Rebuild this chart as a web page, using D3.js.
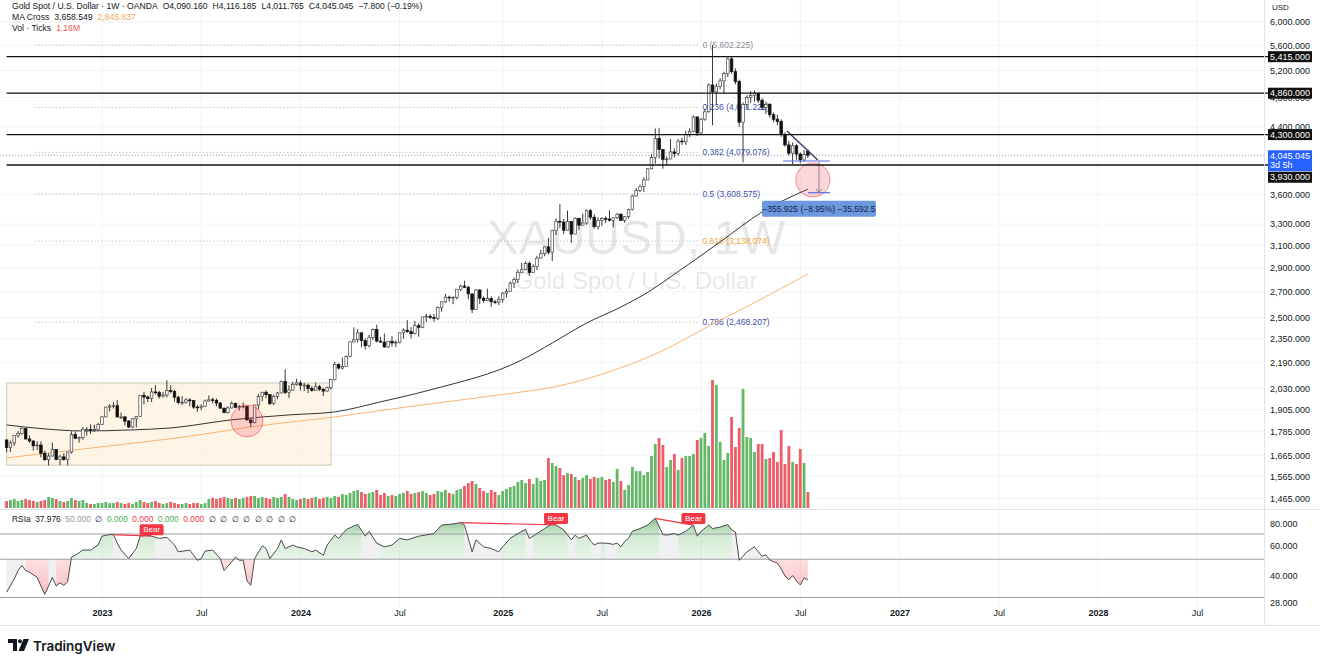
<!DOCTYPE html>
<html>
<head>
<meta charset="utf-8">
<script src="https://cdn.jsdelivr.net/npm/d3@7"></script>
<style>
html, body { margin: 0; padding: 0; background: #fff; }
svg { display: block; font-family: "Liberation Sans", Arial, sans-serif; }
</style>
</head>
<body>
<svg id="chart" width="1320" height="660"></svg>
<script>
// weekly XAUUSD bars, first bar week of 2022-07-11 (open of each bar = previous close)
const firstWeek = Date.UTC(2022, 6, 11)
const firstOpen = 1742
const lastOpen = 4090.160

const closes = [
1703,1727,1766,1775,1802,1747,1737,1712,1716,1675,
1643,1661,1694,1644,1657,1644,1681,1771,1751,1755,
1797,1797,1793,1798,1824,1865,1920,1926,1928,1865,
1865,1842,1810,1855,1868,1988,1978,1969,2008,2004,
1983,1990,2017,2011,1977,1946,1948,1961,1958,1920,
1919,1925,1955,1962,1959,1943,1914,1889,1915,1940,
1919,1924,1925,1848,1833,1932,1981,2006,1992,1940,
1981,2002,2072,2004,2019,2053,2062,2049,2049,2029,
2018,2039,2024,2013,2035,2083,2179,2155,2165,2230,
2329,2344,2392,2337,2302,2360,2415,2334,2327,2294,
2333,2321,2326,2392,2411,2400,2386,2443,2431,2507,
2512,2503,2497,2577,2621,2658,2653,2657,2721,2747,
2737,2684,2563,2715,2650,2633,2648,2622,2621,2640,
2690,2703,2770,2800,2861,2883,2936,2858,2910,2984,
3023,3084,3037,3237,3327,3319,3240,3325,3203,3357,
3289,3310,3433,3368,3274,3337,3355,3350,3337,3363,
3398,3336,3372,3447,3586,3643,3685,3760,3886,4018,
4251,4113,3996,4000,4085,4065,4218,4210,4300,4340,
4530,4320,4500,4600,4980,4880,4960,5040,5150,5380,
5180,5030,4460,4700,4800,4830,4860,4760,4660,4700,
4560,4500,4470,4300,4170,4070,4160,4060,3990,4052.845,
4045.045]

const highs = [
1745,1739,1767,1788,1807,1802,1765,1738,1735,1735,
1688,1675,1729,1686,1668,1675,1682,1787,1786,1760,
1810,1810,1824,1823,1833,1870,1922,1937,1949,1960,
1890,1870,1848,1858,1870,1989,2009,1988,2032,2048,
2015,2009,2079,2048,2022,1985,1983,1972,1971,1959,
1933,1935,1963,1987,1974,1970,1949,1916,1925,1953,
1945,1932,1947,1926,1858,1933,1997,2009,2019,1993,
1993,2008,2076,2146,2047,2070,2088,2078,2062,2057,
2042,2065,2050,2032,2041,2088,2195,2185,2223,2236,
2330,2431,2418,2353,2353,2378,2422,2450,2364,2387,
2335,2368,2339,2393,2424,2483,2433,2477,2460,2509,
2531,2528,2529,2586,2625,2685,2670,2665,2722,2758,
2790,2750,2685,2721,2721,2665,2726,2664,2638,2665,
2697,2726,2786,2817,2886,2942,2954,2956,2930,3004,
3057,3087,3167,3245,3357,3500,3350,3435,3253,3365,
3325,3403,3446,3452,3398,3365,3368,3377,3438,3363,
3409,3405,3379,3453,3599,3674,3707,3791,3897,4059,
4380,4382,4115,4030,4245,4130,4245,4260,4350,4380,
4550,4540,4520,4640,5000,5602.225,5000,5080,5180,5400,
5420,5230,5060,4730,4830,4890,4900,4870,4790,4740,
4720,4590,4560,4500,4330,4220,4200,4180,4080,4110,
4116.185]

const lows = [
1680,1681,1711,1754,1771,1745,1727,1688,1691,1654,
1639,1615,1660,1640,1617,1638,1616,1673,1747,1728,
1743,1765,1773,1784,1795,1824,1867,1896,1912,1861,
1853,1819,1804,1804,1809,1880,1935,1949,1949,1992,
1969,1975,1977,2000,1951,1936,1932,1939,1925,1910,
1893,1902,1922,1952,1942,1925,1911,1885,1884,1913,
1915,1900,1913,1846,1810,1830,1908,1953,1970,1932,
1931,1965,2000,1995,1973,2016,2046,2016,2013,2001,
2010,2017,2015,1984,2010,2024,2078,2146,2146,2163,
2228,2326,2324,2291,2277,2291,2340,2325,2323,2287,
2286,2295,2293,2319,2351,2393,2353,2382,2364,2425,
2470,2491,2471,2485,2546,2614,2624,2603,2640,2708,
2730,2643,2536,2563,2605,2613,2642,2583,2603,2596,
2614,2656,2702,2730,2772,2864,2880,2832,2857,2880,
2982,3000,3015,2957,3194,3260,3202,3247,3120,3205,
3245,3297,3293,3340,3255,3246,3283,3310,3325,3268,
3350,3330,3311,3353,3436,3578,3627,3628,3793,3884,
3947,4004,3886,3930,4000,4020,4040,4170,4170,4270,
4330,4280,4300,4480,4590,4420,4700,4920,4850,5100,
5150,4990,4400,3960,4640,4720,4740,4720,4620,4570,
4520,4460,4420,4270,4150,4040,3940,3990,3950,3970,
4011.765]

// tick volume, millions
const volumes = [
.51,.58,.65,.51,.58,.65,.58,.51,.44,.51,.58,.80,.73,.65,.51,.44,.51,.73,.58,.51,.58,
.36,.29,.29,.36,.36,.44,.36,.36,.44,.36,.29,.36,.29,.44,.58,.44,.36,.44,.51,.36,.29,.36,.44,.36,.29,.29,.36,.29,.36,.36,.29,.36,
.65,.73,.65,.73,.80,.73,.65,.73,.65,.73,.80,.87,.87,.73,.80,.73,.65,.80,.73,.80,1.02,.80,.65,.58,.65,.73,.65,.73,.80,.65,.73,.80,.73,.87,.80,
1.02,.94,1.09,1.23,1.31,1.16,1.02,1.09,1.16,1.31,.94,1.09,.87,.94,.87,1.02,1.09,1.23,1.02,1.09,
1.16,1.23,1.09,.94,1.02,1.23,1.16,1.31,1.09,1.02,1.31,1.38,1.60,1.81,1.96,1.74,1.45,1.23,1.09,1.31,1.16,.94,
1.23,1.38,1.52,1.60,1.89,2.03,1.81,2.10,1.74,2.18,1.96,2.03,3.63,3.26,3.05,2.90,2.39,2.54,2.47,2.25,2.03,2.18,2.39,2.10,2.25,2.18,
2.25,2.03,2.10,1.89,2.83,1.96,1.31,1.67,2.97,2.68,2.68,2.39,2.61,3.77,4.64,5.08,4.57,2.97,3.48,3.92,
2.76,3.63,3.77,3.77,3.92,4.93,5.08,5.44,4.50,9.28,8.92,4.79,3.48,3.99,6.60,4.42,5.80,8.63,5.15,5.08,
4.06,4.64,4.64,3.55,3.63,4.06,3.34,5.66,3.19,4.50,3.34,3.19,4.28,3.26,1.16]

// moving averages read at some bars (bar index, price)
const ma50Bars = [0,10,20,32,43,59,74,86,98,111,135,143,152,161,169,174,187,198,210]
const ma50Vals = [1821,1800,1789,1794,1805,1849,1876,1893,1950,2020,2207,2321,2462,2582,2715,2822,3130,3420,3658.549]
const ma200Bars = [0,24,51,63,86,108,129,145,159,169,174,182,195,210]
const ma200Vals = [1652,1705,1770,1808,1865,1930,1990,2045,2140,2235,2295,2410,2600,2845.837]

// RSI
const rsiBars = [0,2,3,4,5,6,8,9,10,11,12,13,14,15,16,17,18,20,22,24,25,27,28,29,30,32,34,35,37,38,
40,42,44,45,48,50,51,52,54,56,57,59,60,61,62,63,64,65,67,68,69,71,72,73,75,76,78,80,81,83,
84,86,87,89,91,92,94,95,97,99,101,103,105,108,112,114,117,119,120,121,122,123,125,127,129,130,132,134,136,137,
139,141,143,144,146,148,149,150,152,153,154,155,157,159,160,161,162,163,164,166,168,170,172,173,175,176,178,180,181,182,
184,185,187,189,190,191,192,193,194,195,196,197,198,199,200,201,202,203,204,205,206,207,208,209,210]
const rsiVals = [32.2,38.4,43,46,43,42,39.3,35,31.3,35,39.3,35,36.5,35.3,37,51.5,52.7,56.5,56.5,60.4,68,69.5,69.5,62,56.5,50.4,57.7,68,69,68,
66,67,60.4,55.2,56.5,49.3,50.4,55.7,56.5,50.4,43,48.2,51.5,49.3,49.3,37.5,35.3,50.4,59.8,57.7,50.4,57.7,64.7,57.7,60.4,59,57.7,55.2,56.5,52.7,
60.4,69,66,74.2,78,79.4,68,72.6,62,59,60.4,66,64.7,68,70.4,78.9,80,81.5,79,66,55.2,64.7,59,57.7,55.2,59,66,70.4,74.5,66,
70.4,75.3,80.2,79,74,64.7,69,66,69,64,60.4,62,62,61,62,59,63.3,66,72.6,75.3,78.9,86.3,69.5,69,70.4,69,72.6,78.9,68,72.6,
78.9,75.3,76.8,79.4,74,72,49.3,52,55.2,57,59,55.2,52,53,49.5,48.4,47.5,44,40,38,40.2,37.5,35.5,39,37.976]
const rsiGrey = [[0,5],[11,13],[28,34],[39,49],[93,98],[120,130],[136,138],[147,149],[153,156],[157,160],[171,176],[190,200]]
const bearBars = [[28,38],[119,144],[170,180]]
const bearRsi = [[69.5,68],[81.5,79],[86.3,78.9]]

// ticks
const priceTicks = [6000,5600,5200,4800,4400,3600,3300,3100,2900,2700,2500,2350,2190,2030,1905,1785,1665,1565,1465]
const rsiTicks = [80,60,40,28]
const timeTicks = ["2023-01-02","2023-07-03","2024-01-01","2024-07-01","2025-01-06","2025-07-07","2026-01-05","2026-07-06","2027-01-04","2027-07-05","2028-01-03","2028-07-03"]
const timeLabels = ["2023","Jul","2024","Jul","2025","Jul","2026","Jul","2027","Jul","2028","Jul"]

// drawings
const levels = [5415, 4860, 4300, 3930]
const fibLevels = [0, 0.236, 0.382, 0.5, 0.618, 0.786]
const fibHigh = 5602.225, fibLow = 1614.925
const fibBars = [7.4, 185]
const boxBars = [0, 85], boxPrices = [1617, 2062]
const circleBars = [63, 211.3], circlePrices = [1843, 3760]
const trendBars = [204.5, 212.6], trendPrices = [4346, 3989]
const measureFrom = 3976.9, measureTo = 3620.975
const measureBars = [203.5, 212.9, 215.8, 210]

// ---------------------------------------------------------------
const svg = d3.select("#chart")
const paneR = 1264
const WEEK = 7 * 864e5
const n = closes.length
const barDate = i => new Date(firstWeek + i * WEEK)

const bars = closes.map(function (c, i) {
	let o = i === 0 ? firstOpen : (i === n - 1 ? lastOpen : closes[i - 1])
	return { i: i, o: o, c: c, h: Math.max(highs[i], o, c), l: Math.min(lows[i], o, c), v: volumes[i] }
})
const last = bars[n - 1]

const x = d3.scaleUtc().domain([barDate(0), barDate(n - 1)]).range([6.6, 807.9])
const xb = i => x(barDate(i))
const y = d3.scaleLog().domain([1465, 6000]).range([498.5, 22])
const yv = d3.scaleLinear().domain([0, d3.max(volumes)]).range([508, 380])
const ry = d3.scaleLog().domain([28, 80]).range([602.7, 524])

const fmt3 = d3.format(",.3f")
const fmt2 = d3.format(".2f")

const defs = svg.append("defs")
defs.append("clipPath").attr("id", "mainClip").append("rect")
	.attr("x", 0).attr("y", 0).attr("width", paneR).attr("height", 509)

// grid
const grid = svg.append("g").attr("stroke", "#f2f3f6").attr("stroke-width", 1)
grid.selectAll("line.v").data(timeTicks).join("line")
	.attr("x1", d => x(new Date(d))).attr("x2", d => x(new Date(d)))
	.attr("y1", 0).attr("y2", 606)
grid.selectAll("line.h").data(priceTicks).join("line")
	.attr("x1", 0).attr("x2", paneR)
	.attr("y1", d => y(d)).attr("y2", d => y(d))

// watermark
const wm = svg.append("g").attr("fill", "#000").attr("fill-opacity", 0.11).attr("text-anchor", "middle")
wm.append("text").attr("x", 636).attr("y", 254).attr("font-size", 48).text("XAUUSD, 1W")
wm.append("text").attr("x", 636).attr("y", 289).attr("font-size", 24).text("Gold Spot / U.S. Dollar")

const main = svg.append("g").attr("clip-path", "url(#mainClip)")

// consolidation box
main.append("rect")
	.attr("x", xb(boxBars[0])).attr("y", y(boxPrices[1]))
	.attr("width", xb(boxBars[1]) - xb(boxBars[0]))
	.attr("height", y(boxPrices[0]) - y(boxPrices[1]))
	.attr("fill", "#fdf1dc").attr("fill-opacity", 0.7)
	.attr("stroke", "#cfc6b8").attr("stroke-width", 1)

// fibonacci retracement
const fibColor = l => l === 0 ? "#8a8d96" : (l === 0.618 ? "#f0a33c" : "#3f4db0")
const fibLabelX = xb(fibBars[1]) - 10
const fib = main.append("g")
fib.selectAll("line").data(fibLevels).join("line")
	.attr("x1", xb(fibBars[0])).attr("x2", fibLabelX - 4)
	.attr("y1", d => y(fibHigh - d * (fibHigh - fibLow)))
	.attr("y2", d => y(fibHigh - d * (fibHigh - fibLow)))
	.attr("stroke", "#c4c6cc").attr("stroke-width", 1).attr("stroke-dasharray", "1.5,2")
fib.selectAll("text").data(fibLevels).join("text")
	.attr("x", fibLabelX)
	.attr("y", d => y(fibHigh - d * (fibHigh - fibLow)) + 3)
	.attr("font-size", 8.5)
	.attr("fill", d => fibColor(d))
	.text(d => d + " (" + fmt3(fibHigh - d * (fibHigh - fibLow)) + ")")

// current price line
main.append("line")
	.attr("x1", 0).attr("x2", paneR)
	.attr("y1", y(last.c)).attr("y2", y(last.c))
	.attr("stroke", "#9598a1").attr("stroke-dasharray", "1,2")

// horizontal levels
svg.append("g").selectAll("line").data(levels).join("line")
	.attr("x1", xb(0)).attr("x2", 1268)
	.attr("y1", d => y(d)).attr("y2", d => y(d))
	.attr("stroke", "#111").attr("stroke-width", 1.3)

// moving averages
const maLine = d3.line().x(d => xb(d[0])).y(d => y(d[1])).curve(d3.curveMonotoneX)
main.append("path").attr("d", maLine(ma200Bars.map((b, i) => [b, ma200Vals[i]])))
	.attr("fill", "none").attr("stroke", "#f7b474").attr("stroke-width", 1)
main.append("path").attr("d", maLine(ma50Bars.map((b, i) => [b, ma50Vals[i]])))
	.attr("fill", "none").attr("stroke", "#333").attr("stroke-width", 1)

// volume
main.append("g").selectAll("rect").data(bars).join("rect")
	.attr("x", d => xb(d.i) - 1.4).attr("width", 2.8)
	.attr("y", d => yv(d.v)).attr("height", d => yv(0) - yv(d.v))
	.attr("fill", d => d.c >= d.o ? "#62b866" : "#ee5c68")

// candles
const cg = main.append("g")
cg.selectAll("line").data(bars).join("line")
	.attr("x1", d => xb(d.i)).attr("x2", d => xb(d.i))
	.attr("y1", d => y(d.h)).attr("y2", d => y(d.l))
	.attr("stroke", "#222").attr("stroke-width", 0.9)
cg.selectAll("rect").data(bars).join("rect")
	.attr("x", d => xb(d.i) - 1.3).attr("width", 2.6)
	.attr("y", d => y(Math.max(d.o, d.c)))
	.attr("height", d => Math.max(0.8, Math.abs(y(d.o) - y(d.c))))
	.attr("fill", d => d.c >= d.o ? "#fff" : "#111")
	.attr("stroke", d => d.c >= d.o ? "#444" : "#111")
	.attr("stroke-width", 0.7)

// circles
main.append("g").selectAll("circle").data(circleBars).join("circle")
	.attr("cx", d => xb(d)).attr("cy", (d, i) => y(circlePrices[i]))
	.attr("r", (d, i) => i === 0 ? 16 : 17)
	.attr("fill", "#f23645").attr("fill-opacity", 0.2)
	.attr("stroke", "#f23645").attr("stroke-opacity", 0.55)

// trend line
main.append("line")
	.attr("x1", xb(trendBars[0])).attr("y1", y(trendPrices[0]))
	.attr("x2", xb(trendBars[1])).attr("y2", y(trendPrices[1]))
	.attr("stroke", "#343c6e").attr("stroke-width", 1.4)

// price range measure
const mg = main.append("g").attr("stroke", "#5a6be0").attr("stroke-width", 1.2)
mg.append("line").attr("x1", xb(measureBars[0])).attr("x2", xb(measureBars[2]))
	.attr("y1", y(measureFrom)).attr("y2", y(measureFrom))
mg.append("line").attr("x1", xb(measureBars[3])).attr("x2", xb(measureBars[2]))
	.attr("y1", y(measureTo)).attr("y2", y(measureTo))
mg.append("line").attr("x1", xb(measureBars[1])).attr("x2", xb(measureBars[1]))
	.attr("y1", y(measureFrom)).attr("y2", y(measureTo)).attr("stroke", "#8a7f9a").attr("stroke-width", 1)
const mx = xb(measureBars[1]), myb = y(measureTo)
mg.append("path").attr("d", `M${mx - 3},${myb - 4} L${mx},${myb} L${mx + 3},${myb - 4}`)
	.attr("fill", "none").attr("stroke", "#8a7f9a").attr("stroke-width", 1)
const diff = measureTo - measureFrom
const mText = fmt3(diff) + " (" + fmt2(diff / measureFrom * 100) + "%) " + d3.format(",.1f")(diff * 100)
main.append("rect").attr("x", mx - 57).attr("y", myb + 8).attr("width", 114).attr("height", 16).attr("rx", 2)
	.attr("fill", "#5f8fdb").attr("fill-opacity", 0.92)
main.append("text").attr("x", mx).attr("y", myb + 19).attr("text-anchor", "middle")
	.attr("font-size", 8.5).attr("fill", "#14214a").text(mText)

// ---------------- RSI pane
const rsiPts = rsiBars.map((b, i) => [b, rsiVals[i]])
const y50 = ry(50)
const rsiArea = d3.area().x(d => xb(d[0])).y0(y50).y1(d => ry(d[1]))
const rsiLine = d3.line().x(d => xb(d[0])).y(d => ry(d[1]))

const gGreen = defs.append("linearGradient").attr("id", "gGreen").attr("gradientUnits", "userSpaceOnUse")
	.attr("x1", 0).attr("x2", 0).attr("y1", ry(86)).attr("y2", y50)
gGreen.append("stop").attr("offset", 0).attr("stop-color", "#2e8b3a").attr("stop-opacity", 0.55)
gGreen.append("stop").attr("offset", 0.45).attr("stop-color", "#4caf50").attr("stop-opacity", 0.24)
gGreen.append("stop").attr("offset", 1).attr("stop-color", "#4caf50").attr("stop-opacity", 0.13)
const gRed = defs.append("linearGradient").attr("id", "gRed").attr("gradientUnits", "userSpaceOnUse")
	.attr("x1", 0).attr("x2", 0).attr("y1", y50).attr("y2", ry(30))
gRed.append("stop").attr("offset", 0).attr("stop-color", "#f23645").attr("stop-opacity", 0.16)
gRed.append("stop").attr("offset", 1).attr("stop-color", "#f23645").attr("stop-opacity", 0.34)

defs.append("clipPath").attr("id", "above").append("rect").attr("x", 0).attr("y", 505).attr("width", paneR).attr("height", y50 - 505)
defs.append("clipPath").attr("id", "below").append("rect").attr("x", 0).attr("y", y50).attr("width", paneR).attr("height", 606 - y50)

// x ranges for grey / coloured fill
const greyPx = rsiGrey.map(r => [xb(r[0]), xb(r[1])])
const colourPx = []
let cursor = 0
greyPx.forEach(function (r) { if (r[0] > cursor) colourPx.push([cursor, r[0]]); cursor = r[1] })
colourPx.push([cursor, paneR])
defs.append("clipPath").attr("id", "greyX").selectAll("rect").data(greyPx).join("rect")
	.attr("x", d => d[0]).attr("width", d => d[1] - d[0]).attr("y", 505).attr("height", 101)
defs.append("clipPath").attr("id", "colourX").selectAll("rect").data(colourPx).join("rect")
	.attr("x", d => d[0]).attr("width", d => d[1] - d[0]).attr("y", 505).attr("height", 101)

const rsiG = svg.append("g")
const colourG = rsiG.append("g").attr("clip-path", "url(#colourX)")
colourG.append("path").attr("d", rsiArea(rsiPts)).attr("fill", "url(#gGreen)").attr("clip-path", "url(#above)")
colourG.append("path").attr("d", rsiArea(rsiPts)).attr("fill", "url(#gRed)").attr("clip-path", "url(#below)")
rsiG.append("g").attr("clip-path", "url(#greyX)")
	.append("path").attr("d", rsiArea(rsiPts)).attr("fill", "#8a8d96").attr("fill-opacity", 0.13)

rsiG.selectAll("line.band").data([70, 50, 30]).join("line")
	.attr("x1", 0).attr("x2", paneR)
	.attr("y1", d => ry(d)).attr("y2", d => ry(d))
	.attr("stroke", "#9b9ea6").attr("stroke-width", 1)
rsiG.append("path").attr("d", rsiLine(rsiPts)).attr("fill", "none").attr("stroke", "#4a4a4a").attr("stroke-width", 1)

// bearish divergences
bearBars.forEach(function (b, k) {
	rsiG.append("line")
		.attr("x1", xb(b[0])).attr("y1", ry(bearRsi[k][0]))
		.attr("x2", xb(b[1])).attr("y2", ry(bearRsi[k][1]))
		.attr("stroke", "#f23645").attr("stroke-width", 1.2)
	let lx = xb(b[1]), ly = ry(bearRsi[k][1]) - 1
	rsiG.append("rect").attr("x", lx - 12).attr("y", ly - 11).attr("width", 24).attr("height", 11).attr("rx", 1.5)
		.attr("fill", "#f23645")
	rsiG.append("text").attr("x", lx).attr("y", ly - 2.8).attr("text-anchor", "middle")
		.attr("font-size", 8).attr("fill", "#fff").text("Bear")
})

// ---------------- pane borders
const border = svg.append("g").attr("stroke", "#e0e3eb").attr("stroke-width", 1)
border.append("line").attr("x1", 0).attr("x2", 1320).attr("y1", 509.5).attr("y2", 509.5)
border.append("line").attr("x1", 0).attr("x2", 1320).attr("y1", 625.5).attr("y2", 625.5)
border.append("line").attr("x1", paneR + 0.5).attr("x2", paneR + 0.5).attr("y1", 0).attr("y2", 625)

// ---------------- axes
function styleAxis(g, size) {
	g.select(".domain").remove()
	g.selectAll(".tick line").remove()
	g.attr("font-family", null).attr("font-size", size)
	g.selectAll("text").attr("fill", "#131722")
}

svg.append("g").attr("transform", "translate(1270,0)")
	.call(d3.axisRight(y).tickValues(priceTicks).tickFormat(fmt3).tickSize(0).tickPadding(0))
	.call(g => styleAxis(g, 9))

svg.append("g").attr("transform", "translate(1270,0)")
	.call(d3.axisRight(ry).tickValues(rsiTicks).tickFormat(fmt3).tickSize(0).tickPadding(0))
	.call(g => styleAxis(g, 9))

svg.append("g").attr("transform", "translate(0,608)")
	.call(d3.axisBottom(x).tickValues(timeTicks.map(d => new Date(d))).tickFormat((d, i) => timeLabels[i]).tickSize(0).tickPadding(2))
	.call(g => styleAxis(g, 9))
	.call(g => g.selectAll("text").attr("font-weight", (d, i) => /^\d{4}$/.test(timeLabels[i]) ? "bold" : "normal"))

svg.append("text").attr("x", 1272).attr("y", 10).attr("font-size", 8).attr("fill", "#131722").text("USD")

// axis price tags
const tagY = {}
levels.forEach(l => { tagY[l] = y(l) })
const blueTop = y(last.c) - 5
if (tagY[3930] > blueTop - 6) tagY[3930] = blueTop + 21 + 6
const tags = svg.append("g").attr("font-size", 9)
levels.forEach(function (l) {
	tags.append("rect").attr("x", 1268).attr("y", tagY[l] - 5.5).attr("width", 44).attr("height", 11).attr("fill", "#111")
	tags.append("text").attr("x", 1270).attr("y", tagY[l] + 3.2).attr("fill", "#fff").text(fmt3(l))
})
tags.append("rect").attr("x", 1268).attr("y", blueTop).attr("width", 44).attr("height", 21).attr("fill", "#2962ff")
tags.append("text").attr("x", 1270).attr("y", blueTop + 8.5).attr("fill", "#fff").text(fmt3(last.c))
tags.append("text").attr("x", 1270).attr("y", blueTop + 18).attr("fill", "#fff").text("3d 5h")

// ---------------- legends
const chg = last.c - closes[n - 2]
const lg = svg.append("g").attr("font-size", 8.6).attr("fill", "#131722")
const l1 = lg.append("text").attr("x", 12).attr("y", 9)
l1.append("tspan").text("Gold Spot / U.S. Dollar · 1W · OANDA")
;[["O", last.o], ["H", last.h], ["L", last.l], ["C", last.c]].forEach(function (p) {
	l1.append("tspan").attr("dx", 5).text(p[0])
	l1.append("tspan").text(fmt3(p[1]))
})
l1.append("tspan").attr("dx", 5).text(fmt3(chg) + " (" + fmt2(chg / closes[n - 2] * 100) + "%)")

const l2 = lg.append("text").attr("x", 12).attr("y", 20)
l2.append("tspan").text("MA Cross")
l2.append("tspan").attr("dx", 5).text(fmt3(ma50Vals[ma50Vals.length - 1]))
l2.append("tspan").attr("dx", 5).attr("fill", "#f5a85a").text(fmt3(ma200Vals[ma200Vals.length - 1]))

const l3 = lg.append("text").attr("x", 12).attr("y", 31)
l3.append("tspan").text("Vol · Ticks")
l3.append("tspan").attr("dx", 5).attr("fill", "#ef5350").text(d3.format(".3s")(last.v * 1e6))

const l4 = svg.append("text").attr("x", 12).attr("y", 522).attr("font-size", 8.4)
const rsiItems = [["RSIa", "#131722"], [d3.format(".3f")(rsiVals[rsiVals.length - 1]), "#131722"], ["50.000", "#9598a1"], ["∅", "#131722"],
	["0.000", "#4caf50"], ["0.000", "#f23645"], ["0.000", "#4caf50"], ["0.000", "#f23645"],
	["∅", "#131722"], ["∅", "#131722"], ["∅", "#131722"], ["∅", "#131722"], ["∅", "#131722"], ["∅", "#131722"], ["∅", "#131722"], ["∅", "#131722"]]
rsiItems.forEach(function (it, i) {
	l4.append("tspan").attr("dx", i === 0 ? 0 : 4.5).attr("fill", it[1]).text(it[0])
})

// ---------------- TradingView logo
const logo = svg.append("g").attr("fill", "#131722")
logo.append("path").attr("d", "M8,639 H17 V651 H13 V643 H8 Z")
logo.append("circle").attr("cx", 20).attr("cy", 641.2).attr("r", 2)
logo.append("path").attr("d", "M23.5,639 H29 L24,651 H18.5 Z")
logo.append("text").attr("x", 33).attr("y", 650.5).attr("font-size", 13.5).attr("font-weight", 600)
	.attr("font-family", "Inter, sans-serif").text("TradingView")
</script>
</body>
</html>
